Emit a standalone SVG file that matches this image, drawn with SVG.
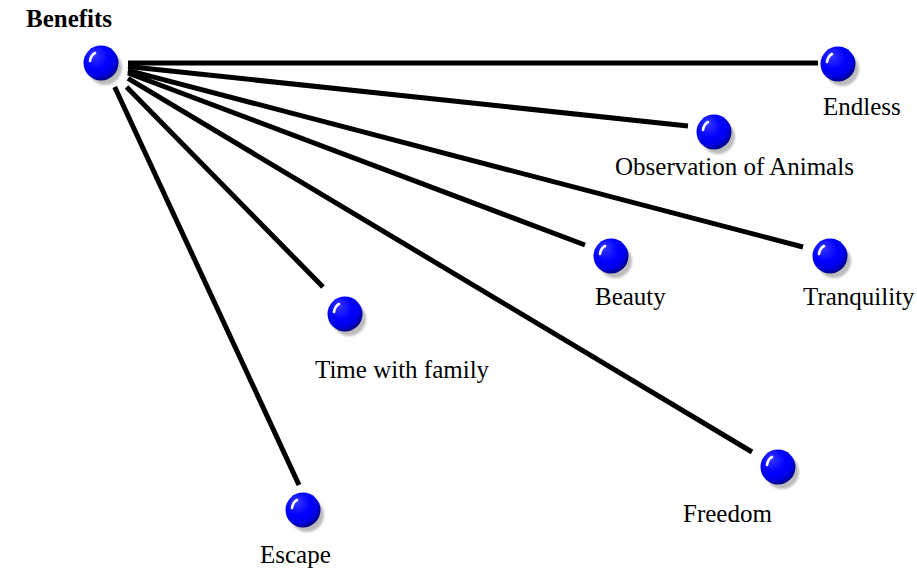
<svg xmlns="http://www.w3.org/2000/svg" width="917" height="571" viewBox="0 0 917 571">
  <style>
    .label { font-family: "Liberation Serif", "Times New Roman", serif; font-size: 25px; fill: #000; }
    .title { font-weight: bold; }
    .link { stroke: #000; stroke-width: 5; fill: none; stroke-linecap: butt; }
  </style>
  <defs>
    <radialGradient id="ballFill" cx="0.42" cy="0.38" r="0.62" fx="0.3" fy="0.25">
      <stop offset="0" stop-color="#3a3aff"/>
      <stop offset="0.55" stop-color="#0000ff"/>
      <stop offset="0.82" stop-color="#0000e8"/>
      <stop offset="1" stop-color="#00008a"/>
    </radialGradient>
    <filter id="soft" x="-50%" y="-50%" width="200%" height="200%">
      <feGaussianBlur stdDeviation="1"/>
    </filter>
    <!-- glossy blue bullet with drop shadow, centred on 0,0 -->
    <g id="ball">
      <circle cx="4" cy="5" r="17" fill="#bcbcbc" filter="url(#soft)"/>
      <circle cx="0" cy="0" r="17.5" fill="url(#ballFill)"/>
      <path d="M -11 -2 Q -10 -8 -6 -10" stroke="#fff" stroke-width="2.6" fill="none" stroke-linecap="round"/>
    </g>
  </defs>

  <rect width="917" height="571" fill="#fff"/>

  <!-- connectors from the root bullet -->
  <g id="connectors">
    <line class="link" x1="128" y1="63" x2="818" y2="63"/>
    <line class="link" x1="128" y1="66.5" x2="688" y2="126"/>
    <line class="link" x1="128" y1="70.3" x2="803" y2="247"/>
    <line class="link" x1="128" y1="73" x2="585" y2="245"/>
    <line class="link" x1="128" y1="78.4" x2="752" y2="452"/>
    <line class="link" x1="126.6" y1="87" x2="323" y2="287"/>
    <line class="link" x1="114.7" y1="87" x2="299" y2="485"/>
  </g>

  <g id="benefits">
    <use href="#ball" x="101" y="63"/>
    <text class="label title" x="26" y="27">Benefits</text>
  </g>
  <g id="endless">
    <use href="#ball" x="838" y="64"/>
    <text class="label" x="823" y="115">Endless</text>
  </g>
  <g id="observation">
    <use href="#ball" x="714" y="132"/>
    <text class="label" x="615" y="175">Observation of Animals</text>
  </g>
  <g id="beauty">
    <use href="#ball" x="611" y="256"/>
    <text class="label" x="595" y="305">Beauty</text>
  </g>
  <g id="tranquility">
    <use href="#ball" x="830" y="256"/>
    <text class="label" x="803" y="305">Tranquility</text>
  </g>
  <g id="time-with-family">
    <use href="#ball" x="345" y="314"/>
    <text class="label" x="315" y="378">Time with family</text>
  </g>
  <g id="freedom">
    <use href="#ball" x="778" y="467"/>
    <text class="label" x="683" y="522">Freedom</text>
  </g>
  <g id="escape">
    <use href="#ball" x="303" y="510"/>
    <text class="label" x="260" y="563">Escape</text>
  </g>
</svg>
